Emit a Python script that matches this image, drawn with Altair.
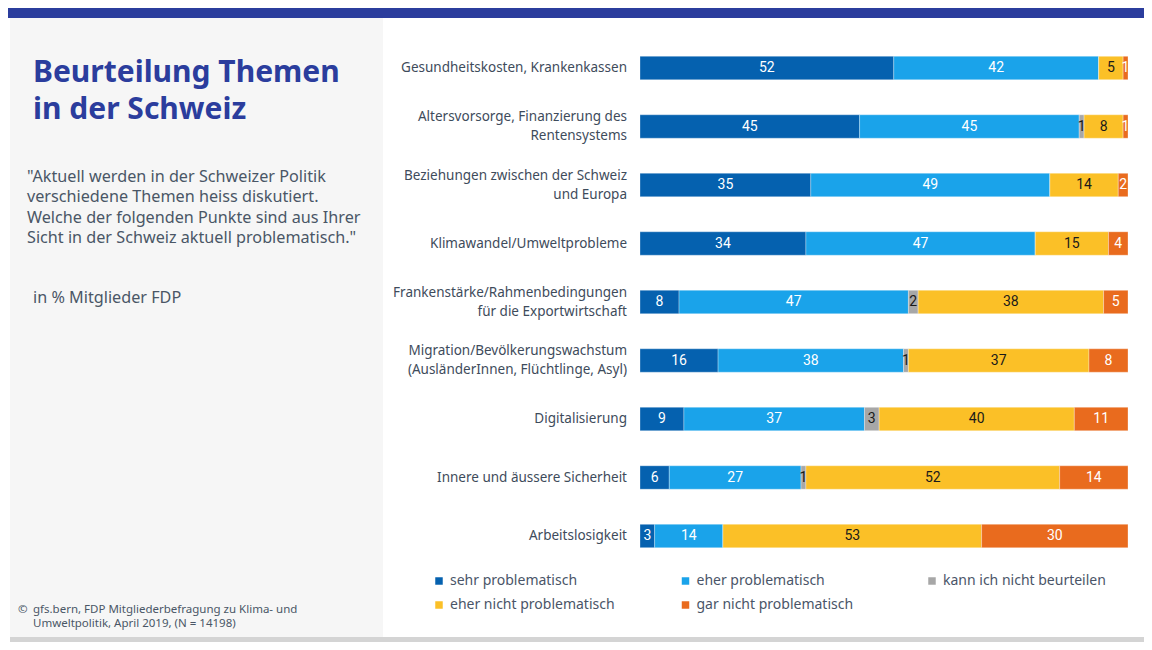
import altair as alt
import pandas as pd

# ---------------- data ----------------
topics = [
    "Gesundheitskosten, Krankenkassen",
    "Altersvorsorge, Finanzierung des\nRentensystems",
    "Beziehungen zwischen der Schweiz\nund Europa",
    "Klimawandel/Umweltprobleme",
    "Frankenstärke/Rahmenbedingungen\nfür die Exportwirtschaft",
    "Migration/Bevölkerungswachstum\n(AusländerInnen, Flüchtlinge, Asyl)",
    "Digitalisierung",
    "Innere und äussere Sicherheit",
    "Arbeitslosigkeit",
]
categories = [
    "sehr problematisch",
    "eher problematisch",
    "kann ich nicht beurteilen",
    "eher nicht problematisch",
    "gar nicht problematisch",
]
sehr = [52, 45, 35, 34, 8, 16, 9, 6, 3]
eher = [42, 45, 49, 47, 47, 38, 37, 27, 14]
kann = [0, 1, 0, 0, 2, 1, 3, 1, 0]
eher_nicht = [5, 8, 14, 15, 38, 37, 40, 52, 53]
gar_nicht = [1, 1, 2, 4, 5, 8, 11, 14, 30]

colors = ["#0561AF", "#1AA3EA", "#A7A7A7", "#FBC027", "#E96B1E"]

title_text = "Beurteilung Themen\nin der Schweiz"
question = ('"Aktuell werden in der Schweizer Politik\n'
            'verschiedene Themen heiss diskutiert.\n'
            'Welche der folgenden Punkte sind aus Ihrer\n'
            'Sicht in der Schweiz aktuell problematisch."')
unit_note = "in % Mitglieder FDP"
source = "gfs.bern, FDP Mitgliederbefragung zu Klima- und\nUmweltpolitik, April 2019, (N = 14198)"

series = [sehr, eher, kann, eher_nicht, gar_nicht]
rows = []
for i, t in enumerate(topics):
    for j, c in enumerate(categories):
        rows.append({"topic": t, "cat": c, "ord": j, "value": series[j][i]})
df = pd.DataFrame(rows)

# ---------------- layout ----------------
W, H = 1136, 634
FONT = "Noto Sans"
LBL_LH = 19

xscale = alt.Scale(domain=[0, 100], range=[632, 1120])
yscale = alt.Scale(domain=topics, range=[30.75, 557.25], paddingInner=0.6, paddingOuter=0.3)

one = pd.DataFrame({"a": [0]})

def rect(x, x2, y, y2, color):
    return alt.Chart(one).mark_rect(color=color).encode(
        x=alt.value(x), x2=alt.value(x2), y=alt.value(y), y2=alt.value(y2))

panel = rect(2, 375, 10, 629, "#F6F6F6")
topbar = rect(0, W, 0, 10, "#2B3D9D")
bottombar = rect(2, W, 629, H, "#D4D4D4")

def txt(s, x, y, size, color, weight="normal", lh=None, font=FONT):
    kw = dict(align="left", baseline="alphabetic", fontSize=size, color=color,
              fontWeight=weight, font=font, lineBreak="\n")
    if lh:
        kw["lineHeight"] = lh
    return alt.Chart(one).mark_text(**kw).encode(
        x=alt.value(x), y=alt.value(y), text=alt.value(s))

title = txt(title_text, 25, 74, 30, "#2B3D9D", weight="bold", lh=37)
quest = txt(question, 19, 174, 16.2, "#4A5666", lh=20.4)
unit = txt(unit_note, 25, 295, 16.2, "#4A5666")
copy = txt("©", 10, 605, 11.5, "#4A5666")
src = txt(source, 25, 605, 11.5, "#4A5666", lh=14)

base = alt.Chart(df).transform_stack(
    stack="value", groupby=["topic"], as_=["x0", "x1"],
    sort=[alt.SortField("ord", order="ascending")]
).transform_calculate(
    mid="(datum.x0 + datum.x1) / 2",
    tc="(datum.cat == 'kann ich nicht beurteilen' || datum.cat == 'eher nicht problematisch') ? '#1A1A1A' : '#FFFFFF'",
)

bars = base.mark_bar(stroke="#FFFFFF", strokeWidth=0.5, strokeOpacity=0.6).encode(
    x=alt.X("x0:Q", scale=xscale, axis=None),
    x2="x1:Q",
    y=alt.Y("topic:N", scale=yscale, axis=None),
    color=alt.Color(
        "cat:N",
        scale=alt.Scale(domain=categories, range=colors),
        legend=alt.Legend(
            title=None, orient="none", legendX=424, legendY=566,
            direction="horizontal",
            columns=3, gridAlign="all", columnPadding=63.5, rowPadding=10,
            symbolType="square", symbolSize=56, symbolStrokeWidth=0,
            labelFontSize=14, labelFont=FONT, labelColor="#4A5568",
            labelOffset=4, labelLimit=300,
        ),
    ),
    order=alt.Order("ord:Q"),
)

values = base.transform_filter("datum.value > 0").mark_text(
    font="Roboto", fontSize=14, baseline="middle", align="center"
).encode(
    x=alt.X("mid:Q", scale=xscale, axis=None),
    y=alt.Y("topic:N", scale=yscale, axis=None),
    text=alt.Text("value:Q"),
    color=alt.Color("tc:N", scale=None),
)

single = [t for t in topics if "\n" not in t]
double = [t for t in topics if "\n" in t]

def label_layer(items, dy):
    return alt.Chart(pd.DataFrame({"topic": items})).mark_text(
        align="right", baseline="middle", fontSize=13.5, font=FONT,
        color="#3E4B5B", lineBreak="\n", lineHeight=LBL_LH, dy=dy,
    ).encode(
        x=alt.value(619),
        y=alt.Y("topic:N", scale=yscale, axis=None),
        text="topic:N",
    )

labels1 = label_layer(single, 0)
labels2 = label_layer(double, -LBL_LH / 2)

chart = alt.layer(
    panel, topbar, bottombar, title, quest, unit, copy, src, bars, values, labels1, labels2
).properties(
    width=W, height=H, padding=0,
    autosize=alt.AutoSizeParams(type="none"),
).configure_view(stroke=None)

chart.save("out.html", embed_options={"renderer": "svg", "actions": False})
